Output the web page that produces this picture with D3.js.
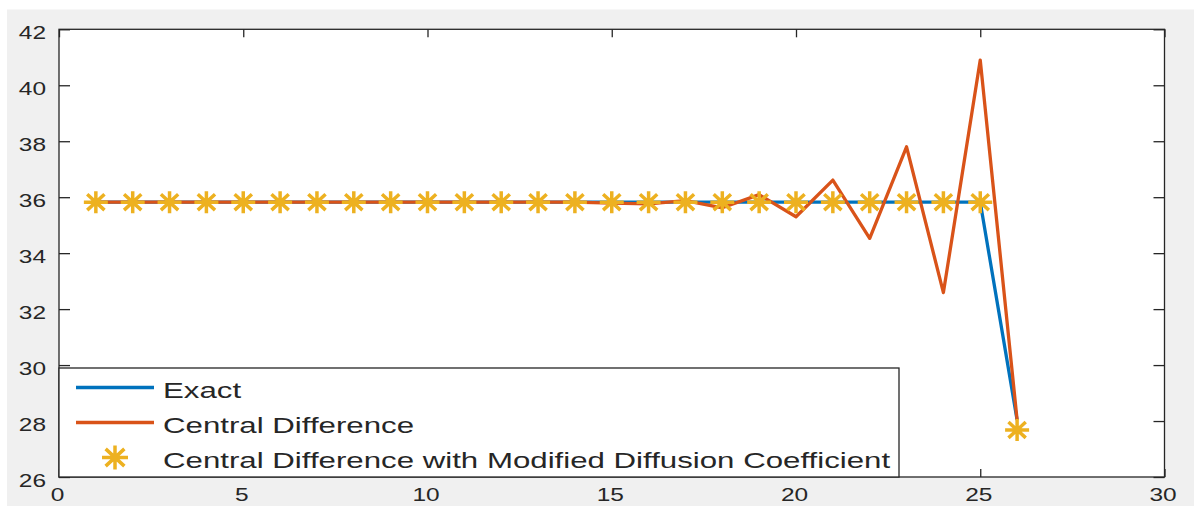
<!DOCTYPE html>
<html>
<head>
<meta charset="utf-8">
<script src="https://cdn.jsdelivr.net/npm/d3@7"></script>
<style>
  html, body { margin: 0; padding: 0; background: #ffffff; }
  svg { display: block; }
  text { font-family: "Liberation Sans", Arial, Helvetica, sans-serif; fill: #262626; }
</style>
</head>
<body>
<svg id="chart" width="1194" height="506"></svg>
<script>
// Grid points
const steps = [1, 2, 3, 4, 5, 6, 7, 8, 9, 10, 11, 12, 13, 14, 15, 16, 17, 18, 19, 20, 21, 22, 23, 24, 25, 26];

// Exact solution
const exact = [35.82, 35.82, 35.82, 35.82, 35.82, 35.82, 35.82, 35.82, 35.82, 35.82,
               35.82, 35.82, 35.82, 35.82, 35.82, 35.82, 35.82, 35.82, 35.82, 35.82,
               35.82, 35.82, 35.82, 35.82, 35.82, 28.04];

// Central difference scheme
const central = [35.82, 35.82, 35.82, 35.82, 35.82, 35.82, 35.82, 35.82, 35.82, 35.82,
                 35.82, 35.82, 35.82, 35.82, 35.79, 35.76, 35.88, 35.62, 36.09, 35.30,
                 36.61, 34.53, 37.80, 32.59, 40.90, 28.04];

// Central difference with modified diffusion coefficient
const modified = [35.82, 35.82, 35.82, 35.82, 35.82, 35.82, 35.82, 35.82, 35.82, 35.82,
                  35.82, 35.82, 35.82, 35.82, 35.82, 35.82, 35.82, 35.82, 35.82, 35.82,
                  35.82, 35.82, 35.82, 35.82, 35.82, 27.68];

const xTicks = [0, 5, 10, 15, 20, 25, 30];
const yTicks = [26, 28, 30, 32, 34, 36, 38, 40, 42];
const legendLabels = ["Exact", "Central Difference", "Central Difference with Modified Diffusion Coefficient"];

const colors = { exact: "#0072BD", central: "#D95319", modified: "#EDB120" };
const axisColor = "#262626";
const sxTick = 1.36;   // horizontal text stretch for tick labels
const sxLegend = 1.42; // horizontal text stretch for legend labels

const svg = d3.select("#chart");

// Figure background
svg.append("rect").attr("x", 7).attr("y", 9.5).attr("width", 1194 - 7).attr("height", 506 - 9.5)
  .attr("fill", "#f0f0f0");

const x = d3.scaleLinear().domain([0, 30]).range([59, 1164.5]);
const y = d3.scaleLinear().domain([26, 42]).range([477, 29.3]);

// Plot area
svg.append("rect")
  .attr("x", x(0)).attr("y", y(42))
  .attr("width", x(30) - x(0)).attr("height", y(26) - y(42))
  .attr("fill", "#ffffff");

const plot = svg.append("g");

// Series lines
const line = d3.line().x((d, i) => x(steps[i])).y(d => y(d));

plot.append("path").datum(exact)
  .attr("d", line).attr("fill", "none")
  .attr("stroke", colors.exact).attr("stroke-width", 3.3).attr("stroke-linejoin", "round");

plot.append("path").datum(central)
  .attr("d", line).attr("fill", "none")
  .attr("stroke", colors.central).attr("stroke-width", 3.3).attr("stroke-linejoin", "round");

// Asterisk marker path centred on the origin
function asterisk(rx, ry) {
  const dx = rx * 0.72, dy = ry * 0.72;
  return `M${-rx},0L${rx},0M0,${-ry}L0,${ry}M${-dx},${-dy}L${dx},${dy}M${-dx},${dy}L${dx},${-dy}`;
}

plot.selectAll("path.star").data(modified).join("path")
  .attr("class", "star")
  .attr("transform", (d, i) => `translate(${x(steps[i])},${y(d)})`)
  .attr("d", asterisk(12, 11))
  .attr("fill", "none")
  .attr("stroke", colors.modified).attr("stroke-width", 3.5);

// Axes (ticks pointing inward on all four sides)
function styleAxis(g) {
  g.select(".domain").remove();
  g.selectAll(".tick line").attr("stroke", axisColor).attr("stroke-width", 1.3);
}

const axisLeftG = svg.append("g").attr("transform", `translate(${x(0)},0)`)
  .call(d3.axisLeft(y).tickValues(yTicks).tickSize(-11).tickFormat(d3.format("d")));
styleAxis(axisLeftG);
axisLeftG.selectAll(".tick text")
  .attr("x", -13 / sxTick).attr("dy", "0.53em")
  .attr("transform", `scale(${sxTick},1)`)
  .style("font-size", "18px").attr("fill", axisColor);

const axisRightG = svg.append("g").attr("transform", `translate(${x(30)},0)`)
  .call(d3.axisRight(y).tickValues(yTicks).tickSize(-11).tickFormat(""));
styleAxis(axisRightG);

const axisBottomG = svg.append("g").attr("transform", `translate(0,${y(26)})`)
  .call(d3.axisBottom(x).tickValues(xTicks).tickSize(-8).tickFormat(d3.format("d")));
styleAxis(axisBottomG);
axisBottomG.selectAll(".tick text")
  .attr("y", 24).attr("dy", 0).attr("x", -2 / sxTick)
  .attr("transform", `scale(${sxTick},1)`)
  .style("font-size", "18px").attr("fill", axisColor);

const axisTopG = svg.append("g").attr("transform", `translate(0,${y(42)})`)
  .call(d3.axisTop(x).tickValues(xTicks).tickSize(-8).tickFormat(""));
styleAxis(axisTopG);

// Axes box
svg.append("rect")
  .attr("x", x(0)).attr("y", y(42))
  .attr("width", x(30) - x(0)).attr("height", y(26) - y(42))
  .attr("fill", "none").attr("stroke", axisColor).attr("stroke-width", 1.3);

// Legend
const legend = svg.append("g");
legend.append("rect")
  .attr("x", x(0)).attr("y", 368)
  .attr("width", 899 - x(0)).attr("height", y(26) - 368)
  .attr("fill", "#ffffff").attr("stroke", axisColor).attr("stroke-width", 1.3);

const rowY = [387.5, 422.5, 457.5];
const sampleX0 = 76, sampleX1 = 154, textX = 163;

legend.append("line")
  .attr("x1", sampleX0).attr("x2", sampleX1).attr("y1", rowY[0]).attr("y2", rowY[0])
  .attr("stroke", colors.exact).attr("stroke-width", 3.3);
legend.append("line")
  .attr("x1", sampleX0).attr("x2", sampleX1).attr("y1", rowY[1]).attr("y2", rowY[1])
  .attr("stroke", colors.central).attr("stroke-width", 3.3);
legend.append("path")
  .attr("transform", `translate(${(sampleX0 + sampleX1) / 2},${rowY[2]})`)
  .attr("d", asterisk(13, 12))
  .attr("fill", "none").attr("stroke", colors.modified).attr("stroke-width", 3.5);

legend.selectAll("text.label").data(legendLabels).join("text")
  .attr("class", "label")
  .attr("transform", (d, i) => `translate(${textX},${rowY[i] + 10.5}) scale(${sxLegend},1)`)
  .style("font-size", "22px")
  .text(d => d);
</script>
</body>
</html>
